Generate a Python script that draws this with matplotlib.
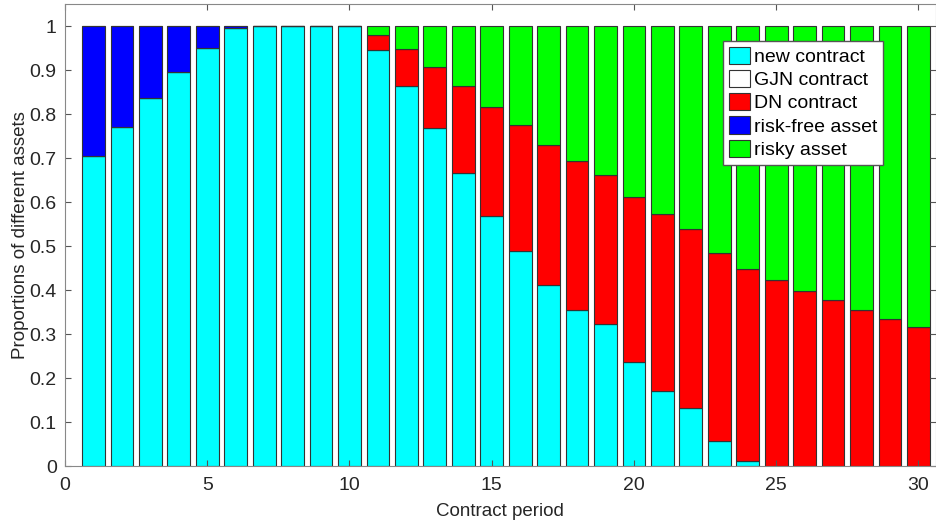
"""Stacked proportions of assets per contract period"""

import matplotlib

matplotlib.use("Agg")
import matplotlib.pyplot as plt
import numpy as np
from matplotlib.ticker import FuncFormatter

plt.rcParams["font.family"] = ["Liberation Sans", "DejaVu Sans"]

# %% data
periods = np.arange(1, 31)
new_contract = [0.704, 0.771, 0.837, 0.896, 0.951, 0.995, 1.0, 1.0, 1.0, 1.0,
                0.946, 0.865, 0.768, 0.666, 0.569, 0.490, 0.411, 0.355, 0.324, 0.237,
                0.171, 0.133, 0.058, 0.012, 0.0, 0.0, 0.0, 0.0, 0.0, 0.0]
gjn_contract = [0.0] * 30
dn_contract = [0.0, 0.0, 0.0, 0.0, 0.0, 0.0, 0.0, 0.0, 0.0, 0.0,
               0.034, 0.084, 0.140, 0.197, 0.248, 0.286, 0.320, 0.338, 0.338, 0.375,
               0.401, 0.405, 0.427, 0.435, 0.422, 0.397, 0.378, 0.356, 0.335, 0.316]
risk_free = [0.296, 0.229, 0.163, 0.104, 0.049, 0.005, 0.0, 0.0, 0.0, 0.0,
             0.0, 0.0, 0.0, 0.0, 0.0, 0.0, 0.0, 0.0, 0.0, 0.0,
             0.0, 0.0, 0.0, 0.0, 0.0, 0.0, 0.0, 0.0, 0.0, 0.0]
risky = [0.0, 0.0, 0.0, 0.0, 0.0, 0.0, 0.0, 0.0, 0.0, 0.0,
         0.020, 0.051, 0.092, 0.137, 0.183, 0.224, 0.269, 0.307, 0.338, 0.388,
         0.428, 0.462, 0.515, 0.553, 0.578, 0.603, 0.622, 0.644, 0.665, 0.684]

series = [new_contract, gjn_contract, dn_contract, risk_free, risky]
labels = ["new contract", "GJN contract", "DN contract", "risk-free asset", "risky asset"]
colors = ["#00ffff", "#ffffff", "#ff0000", "#0000ff", "#00ff00"]

# %% plot
fig = plt.figure(figsize=(9.37, 5.22), dpi=100)
ax = fig.add_axes([0.0694, 0.107, 0.929, 0.885])

bottom = np.zeros(len(periods))
handles = []
for vals, lab, c in zip(series, labels, colors):
    vals = np.array(vals)
    b = ax.bar(periods, vals, width=0.8, bottom=bottom, color=c,
               edgecolor="#333333", linewidth=0.8, label=lab)
    handles.append(b)
    bottom += vals

ax.set_xlim(0, 30.6)
ax.set_ylim(0, 1.05)
ax.set_xticks(np.arange(0, 31, 5))
ax.set_yticks(np.arange(0, 1.01, 0.1))
ax.yaxis.set_major_formatter(FuncFormatter(lambda v, p: f"{v:g}"))
ax.tick_params(direction="in", top=True, right=True, labelsize=14,
               color="#555555", labelcolor="#262626", length=4)
ax.tick_params(axis="x", pad=8)
ax.tick_params(axis="y", pad=6)
for s in ax.spines.values():
    s.set_color("#888888")

ax.set_xlabel("Contract period", fontsize=13.5, color="#262626", labelpad=6)
ax.set_ylabel("Proportions of different assets", fontsize=13.5, color="#262626", labelpad=0)

leg = ax.legend(handles=handles, loc="upper right", bbox_to_anchor=(0.94, 0.921),
                fontsize=14, handlelength=1.1, handleheight=1.0, handletextpad=0.2,
                labelspacing=0.2, borderpad=0.3, borderaxespad=0, fancybox=False,
                framealpha=1, edgecolor="#555555")

fig.savefig("out.png", dpi=100)
